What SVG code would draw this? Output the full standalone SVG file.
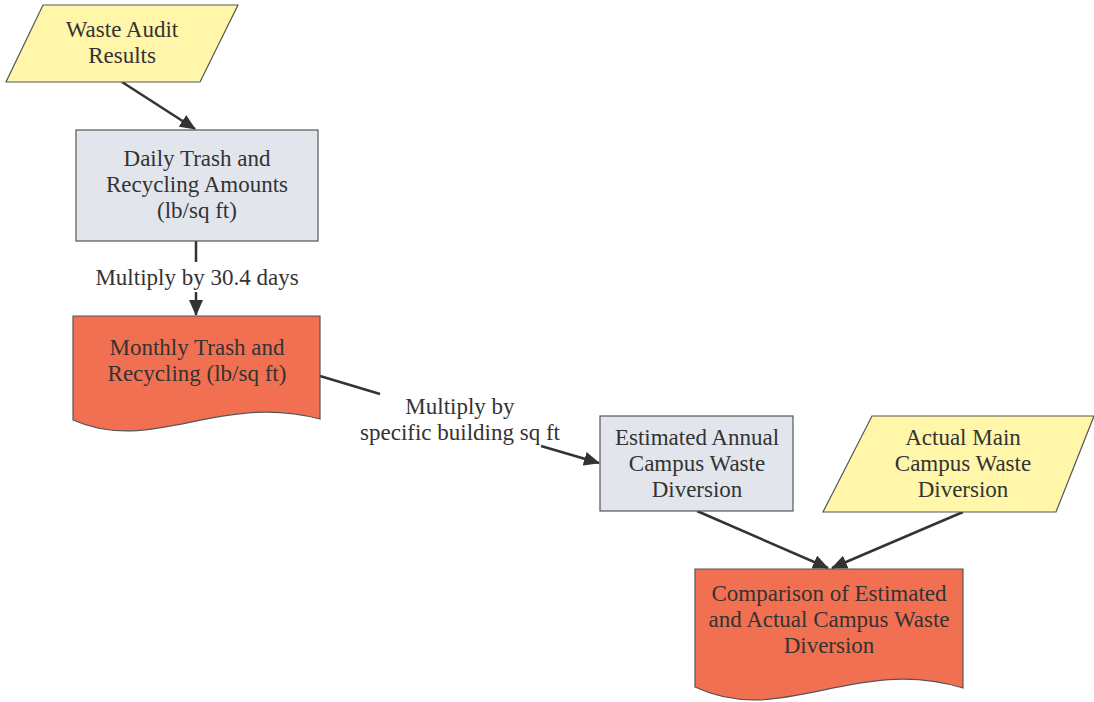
<svg xmlns="http://www.w3.org/2000/svg" width="1094" height="702" viewBox="0 0 1094 702">
<defs>
<style>
text{font-family:"Liberation Serif","Times New Roman",serif;font-size:23px;fill:#333;text-anchor:middle}
.io{fill:#fff6aa;stroke:#555;stroke-width:1.2}
.proc{fill:#e2e5ec;stroke:#555;stroke-width:1.2}
.doc{fill:#f27052;stroke:#555;stroke-width:1.2}
.conn{fill:none;stroke:#333;stroke-width:2.5}
.arr{marker-end:url(#ah)}
</style>
<marker id="ah" viewBox="0 0 16 14" refX="15" refY="7" markerWidth="16" markerHeight="14" orient="auto" markerUnits="userSpaceOnUse">
<path d="M0,0 L16,7 L0,14 Z" fill="#333"/>
</marker>
</defs>
<rect width="1094" height="702" fill="#fff"/>
<g id="connectors">
<line class="conn arr" x1="122" y1="82" x2="195" y2="129"/>
<line class="conn" x1="196" y1="241" x2="196" y2="262"/>
<line class="conn arr" x1="196" y1="292" x2="196" y2="315"/>
<line class="conn" x1="320" y1="376" x2="380" y2="394"/>
<line class="conn arr" x1="541" y1="446" x2="599" y2="463"/>
<line class="conn arr" x1="697" y1="511" x2="828" y2="568"/>
<line class="conn arr" x1="963" y1="512" x2="832" y2="568"/>
<text x="197" y="285">Multiply by 30.4 days</text>
<text x="460" y="414">Multiply by</text>
<text x="460" y="440">specific building sq ft</text>
</g>
<g id="waste-audit">
<path class="io" d="M43,5 L238,5 L200,82 L6,82 Z"/>
<text x="122" y="37">Waste Audit</text>
<text x="122" y="63">Results</text>
</g>
<g id="daily">
<rect class="proc" x="76" y="130" width="242" height="111"/>
<text x="197" y="166">Daily Trash and</text>
<text x="197" y="192">Recycling Amounts</text>
<text x="197" y="218">(lb/sq ft)</text>
</g>
<g id="monthly">
<path class="doc" d="M73,316 L320,316 L320,419 C220,392 152,455 73,420 Z"/>
<text x="197" y="355">Monthly Trash and</text>
<text x="197" y="381">Recycling (lb/sq ft)</text>
</g>
<g id="estimated">
<rect class="proc" x="600" y="416" width="193" height="95"/>
<text x="697" y="445">Estimated Annual</text>
<text x="697" y="471">Campus Waste</text>
<text x="697" y="497">Diversion</text>
</g>
<g id="actual">
<path class="io" d="M872,416 L1094,416 L1056,512 L823,512 Z"/>
<text x="963" y="445">Actual Main</text>
<text x="963" y="471">Campus Waste</text>
<text x="963" y="497">Diversion</text>
</g>
<g id="comparison">
<path class="doc" d="M695,569 L963,569 L963,688 C855,655 782,728 695,687 Z"/>
<text x="829" y="601">Comparison of Estimated</text>
<text x="829" y="627">and Actual Campus Waste</text>
<text x="829" y="653">Diversion</text>
</g>
</svg>
